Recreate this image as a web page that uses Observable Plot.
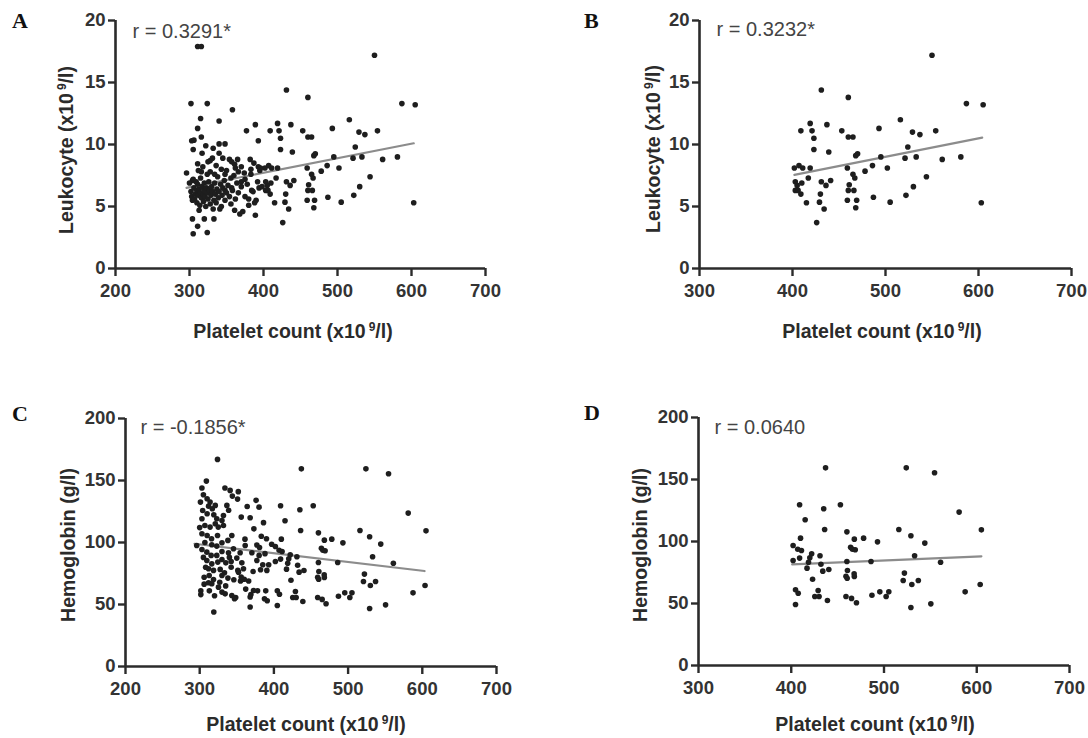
<!DOCTYPE html>
<html><head><meta charset="utf-8">
<script src="https://cdn.jsdelivr.net/npm/d3@7"></script>
<script src="https://cdn.jsdelivr.net/npm/@observablehq/plot@0.6"></script>
<style>
body{margin:0;background:#fff;}
#wrap{position:relative;width:1088px;height:738px;overflow:hidden;font-family:"Liberation Sans",Arial,sans-serif;background:#fff;}
.panel{position:absolute;}
#overlay{position:absolute;left:0;top:0;}
</style></head><body><div id="wrap"></div>
<script>
// ---------- tick labels ----------
const xTicksWide = [200, 300, 400, 500, 600, 700];
const xTicksNarrow = [300, 400, 500, 600, 700];
const leukoTicks = [0, 5, 10, 15, 20];
const hbTicks = [0, 50, 100, 150, 200];

// ---------- labels ----------
const panelLetters = ["A", "B", "C", "D"];
const rLabels = ["r = 0.3291*", "r = 0.3232*", "r = -0.1856*", "r = 0.0640"];

// ---------- leukocyte vs platelet (platelet < 400) ----------
const leukoBelow400 = [
  [311,17.9],[316,17.9],[302,13.3],[324,13.3],[315,12.1],[358,12.8],[340,11.9],[377,11.1],[389,11.6],
  [311,11.3],[316,10.6],[303,10.3],[306,10.35],[332,9.7],[340,10.05],[348,10.05],[317,9.3],[393,10.3],
  [311,8.45],[328,8.7],[354,8.8],[382,8.8],[296,7.7],[304,7.1],[316,7.8],[324,7.6],[334,7.6],[343,8.0],
  [361,8.4],[370,8.2],[383,8.0],[393,8.2],
  [304,5.5],[304,4.0],[313,4.7],[311,3.4],[305,2.8],[324,2.9],[320,4.0],[333,4.0],[361,4.7],[368,4.4],
  [389,4.3],[356,5.2],[341,4.8],[380,5.1],[390,5.5],[375,5.8],[384,6.3],[394,6.5],[366,6.1],[357,6.5],
  [348,6.3],[370,7.0],
  [300,6.9],[302,6.2],[303,5.8],[305,7.2],[306,6.5],[307,5.6],[308,6.0],[309,7.0],[310,6.3],[310,5.3],
  [311,6.8],[312,5.9],[313,6.4],[314,5.1],[315,6.1],[315,7.3],[316,5.7],[317,6.6],[318,6.0],[319,5.4],
  [320,6.9],[320,6.3],[321,5.8],[322,5.0],[323,6.5],[324,6.1],[325,5.6],[326,7.0],[327,6.3],[328,5.2],
  [329,5.9],[330,6.6],[331,6.2],[332,4.8],[333,5.5],[334,6.9],[335,6.0],[336,5.3],[337,6.4],[338,7.4],
  [339,5.7],[340,6.2],[342,6.8],[343,5.0],[344,5.9],[345,6.5],[347,7.1],[348,5.5],[350,6.1],[352,6.7],
  [354,5.8],[356,7.3],[358,6.3],[360,7.5],[362,5.6],[364,6.9],[366,7.8],[370,6.6],[372,4.6],[375,7.2],
  [378,6.8],[380,5.6],[383,7.6],[386,6.2],[388,5.3],[392,7.0],[395,7.9],[398,6.6],
  [318,8.2],[325,8.6],[331,8.9],[336,8.3],[345,8.9],[350,7.9],[357,8.6],[365,8.8],[374,7.7],[387,8.5],
  [396,8.1],[305,9.6],[322,9.9],[340,9.3],[312,7.9],[328,7.8],[348,7.6],[362,8.1]
];

// ---------- leukocyte vs platelet (platelet >= 400) ----------
const leukoAbove400 = [
  [550,17.2],[431,14.4],[460,13.8],[587,13.3],[605,13.2],[516,12.0],[419,11.7],[437,11.6],[409,11.1],
  [421,11.1],[453,11.1],[493,11.3],[529,11.0],[537,10.8],[554,11.1],[423,10.5],[460,10.6],[465,10.6],
  [524,9.8],[423,9.6],[439,9.4],[468,9.1],[470,9.25],[495,9.0],[521,8.9],[533,9.0],[561,8.8],[581,9.0],
  [402,8.1],[407,8.3],[411,8.1],[419,8.1],[459,8.1],[486,8.3],[502,8.1],[478,7.85],[417,7.3],[465,7.6],
  [467,7.3],[544,7.4],[403,7.0],[410,6.9],[405,6.7],[431,7.0],[441,7.1],[436,6.7],[403,6.3],[406,6.3],
  [409,6.0],[461,6.75],[460,6.3],[466,6.3],[430,6.0],[530,6.6],[459,5.5],[469,5.5],[487,5.75],[522,5.9],
  [415,5.3],[429,5.35],[505,5.35],[603,5.3],[434,4.8],[468,4.9],[426,3.7]
];

// ---------- hemoglobin vs platelet (platelet < 400) ----------
const hbBelow400 = [
  [324,167],[319,44],[309,149.5],[303,144],[334,144],[341,142],[352,141],[351,135],[376,134],[364,129],
  [380,128.5],[356,120.5],[368,120],[373,111],[386,116],[377,98],[390,103],[397,98.6],[361,102.7],[388,91],
  [382,78],[393,82],[372,76.6],[360,70.4],[366,69],[369,58],[378,61],[389,61],[391,53],[368,48],
  [348.5,55.6],[362,62.4],[355,69],[301.5,61],[301.5,58],[313,61],[306,66.4],
  [305,138.5],[301,132.6],[310,135.3],[314,132.6],[312,129.3],[317,127.2],[321,129.9],[304,125.8],
  [310,123.2],[319,122.4],[323,119.1],[303,119.1],[307,113.7],[314,112.4],[321,115.1],[325,112.4],
  [303,107],[310,105.7],[316,103],[324,105.7],[332,113.7],[330,117.8],[344,137.4],[336.6,129.9],
  [339,126],[332,121.8],[383,105],[380.6,96],[343.3,105.7],[338,101.7],[330,99.8],[323,97.1],[316.3,98.2],
  [296,97.6],[303,94.4],[309.6,92.2],[315.4,89.6],[323,89.6],[330,92.8],[338.8,91.7],[345.5,94.9],
  [354.5,91.7],[361.3,97.6],[370.3,91.7],[380.1,89.6],[309.6,85.5],[316.3,82.8],[324.4,84.2],[330,86.3],
  [335.2,83.6],[342.4,84.7],[350,87.4],[356.8,83.6],[311.9,78.8],[318.6,77.5],[327.6,78.3],[333.4,75.6],
  [342.4,80.1],[351.4,77.5],[359,78.8],[377,85.5],[385,82],[390.5,77.5],[312.8,73.4],[318.6,70.2],
  [330,73.4],[338,71.3],[352.3,76.1],[355.9,72.1],[316.3,66.7],[325.3,64],[311.9,67.5],[330,60],
  [334.3,58.6],[343.3,57.3],[346.9,54.6],[372.5,61.3],[387.3,54.6],[368,56],
  [306,72],[308,80],[305,88],[320,57],[327,68],[335,65],[340,88],[346,70],[300,112],[307,100]
];

// ---------- hemoglobin vs platelet (platelet >= 400) ----------
const hbAbove400 = [
  [437,159.4],[524,159.4],[554.5,155.4],[409,129.6],[435,126.4],[453,129.6],[581,123.7],[415,117.5],
  [436,109.7],[460,107.8],[516,109.7],[605,109.4],[478,102.7],[493,99.7],[529,104.6],[544,98.7],
  [410,102.7],[468,101.9],[402,96.8],[407,93.8],[411,92.8],[464,95.4],[466,93.8],[469,93.3],[422,90.1],
  [431,88.5],[402,84.7],[409,86.6],[420,86.8],[418.6,83.3],[460,83.9],[486,83.9],[533,88.5],[561,83.3],
  [417,78.5],[432,81.7],[434,76.1],[440.5,77.4],[460.6,76.6],[467.8,73.9],[468,71.8],[459,72],
  [460.3,70.4],[423,69.6],[522,74.5],[520.7,68.6],[530,65.3],[537,68.6],[603.7,65.3],[404.6,61],
  [407.5,58.3],[429,60.5],[425.4,55.7],[430,55.7],[439,52.4],[459,55.7],[465,54.1],[470.3,50.6],
  [487,56.7],[495.5,59.4],[502.3,55.7],[505.2,59.4],[587.5,59.4],[404.6,49.2],[529,46.8],[550.5,49.7]
];

// ---------- fitted regression lines (end points) ----------
const fitA = [[296, 6.5], [603, 10.1]];
const fitB = [[402, 7.55], [604, 10.55]];
const fitC = [[293, 99], [603, 77]];
const fitD = [[401, 81.5], [605, 88]];

const wrap = document.getElementById("wrap");
const FONT = "'Liberation Sans', Arial, sans-serif";

function panel({data, fit, xDomain, xTicks, yDomain, yTicks, m, left, top, rLabel, rdx, rdy}) {
  const chart = Plot.plot({
    width: 544, height: 369,
    marginLeft: m[0], marginRight: m[1], marginTop: m[2], marginBottom: m[3],
    x: {domain: xDomain},
    y: {domain: yDomain},
    style: {background: "transparent", color: "#2b2b2b", fontFamily: FONT, overflow: "visible"},
    marks: [
      Plot.axisX({ticks: xTicks, tickSize: 8, stroke: "#2b2b2b", strokeWidth: 2.4, tickFormat: () => "", label: null}),
      Plot.axisY({ticks: yTicks, tickSize: 7, stroke: "#2b2b2b", strokeWidth: 2.4, tickFormat: () => "", label: null}),
      Plot.text(xTicks, {x: d => d, y: yDomain[0], dy: 15, lineAnchor: "top", textAnchor: "middle",
        fontSize: 18.5, fontWeight: "bold", fill: "#333", fontFamily: FONT}),
      Plot.text(yTicks, {x: xDomain[0], y: d => d, dx: -10, lineAnchor: "middle", textAnchor: "end",
        fontSize: 18.5, fontWeight: "bold", fill: "#333", fontFamily: FONT}),
      Plot.ruleY([yDomain[0]], {stroke: "#2b2b2b", strokeWidth: 2.6}),
      Plot.ruleX([xDomain[0]], {stroke: "#2b2b2b", strokeWidth: 2.6}),
      Plot.line(fit, {x: d => d[0], y: d => d[1], stroke: "#8c8c8c", strokeWidth: 2.2}),
      Plot.dot(data, {x: d => d[0], y: d => d[1], r: 2.8, fill: "#1e1e1e", stroke: "none"}),
      Plot.text([rLabel], {frameAnchor: "top-left", dx: rdx, dy: rdy, lineAnchor: "bottom", textAnchor: "start",
        fontSize: 20, fontWeight: "normal", fill: "#444", fontFamily: FONT})
    ]
  });
  const div = document.createElement("div");
  div.className = "panel";
  div.style.left = left + "px";
  div.style.top = top + "px";
  div.appendChild(chart);
  wrap.appendChild(div);
}

panel({data: leukoBelow400.concat(leukoAbove400), fit: fitA, xDomain: [200, 700], xTicks: xTicksWide,
  yDomain: [0, 20], yTicks: leukoTicks, m: [115, 59, 20, 101], left: 0, top: 0, rLabel: rLabels[0], rdx: 17, rdy: 17});
panel({data: leukoAbove400, fit: fitB, xDomain: [300, 700], xTicks: xTicksNarrow,
  yDomain: [0, 20], yTicks: leukoTicks, m: [155, 17, 20, 101], left: 544, top: 0, rLabel: rLabels[1], rdx: 17, rdy: 15});
panel({data: hbBelow400.concat(hbAbove400), fit: fitC, xDomain: [200, 700], xTicks: xTicksWide,
  yDomain: [0, 200], yTicks: hbTicks, m: [125, 48, 49, 72], left: 0, top: 369, rLabel: rLabels[2], rdx: 15, rdy: 15});
panel({data: hbAbove400, fit: fitD, xDomain: [300, 700], xTicks: xTicksNarrow,
  yDomain: [0, 200], yTicks: hbTicks, m: [154, 19, 48, 73], left: 544, top: 369, rLabel: rLabels[3], rdx: 16, rdy: 16});

// ---------- overlay: panel letters and axis titles ----------
const svg = d3.select(wrap).append("svg").attr("id", "overlay").attr("width", 1088).attr("height", 738);
const letterPos = [[12, 28], [584, 28], [12, 421], [584, 420]];
panelLetters.forEach((l, i) => {
  svg.append("text").attr("x", letterPos[i][0]).attr("y", letterPos[i][1])
    .attr("font-family", "'Liberation Serif', 'Times New Roman', serif").attr("font-weight", "bold")
    .attr("font-size", 22).attr("fill", "#111").text(l);
});

function unitTitle(g, before) {
  const t = g.append("text").attr("font-family", FONT)
    .attr("font-weight", "bold").attr("font-size", 19.5).attr("fill", "#2b2b2b").attr("text-anchor", "middle");
  t.append("tspan").text(before + " (x10");
  t.append("tspan").attr("font-size", 12).attr("dx", 3).attr("dy", -7).text("9");
  t.append("tspan").attr("dy", 7).text("/l)");
  return t;
}
const xTitlePos = [[293, 338], [882, 338], [306, 731], [875, 731]];
xTitlePos.forEach(([x, y]) => {
  unitTitle(svg.append("g").attr("transform", `translate(${x},${y})`), "Platelet count");
});
[[73, 150], [660, 149]].forEach(([x, y]) => {
  unitTitle(svg.append("g").attr("transform", `translate(${x},${y}) rotate(-90)`), "Leukocyte");
});
[[75, 545], [647, 545]].forEach(([x, y]) => {
  svg.append("g").attr("transform", `translate(${x},${y}) rotate(-90)`)
    .append("text").attr("font-family", FONT)
    .attr("font-weight", "bold").attr("font-size", 19.5).attr("fill", "#2b2b2b").attr("text-anchor", "middle")
    .text("Hemoglobin (g/l)");
});
</script></body></html>
